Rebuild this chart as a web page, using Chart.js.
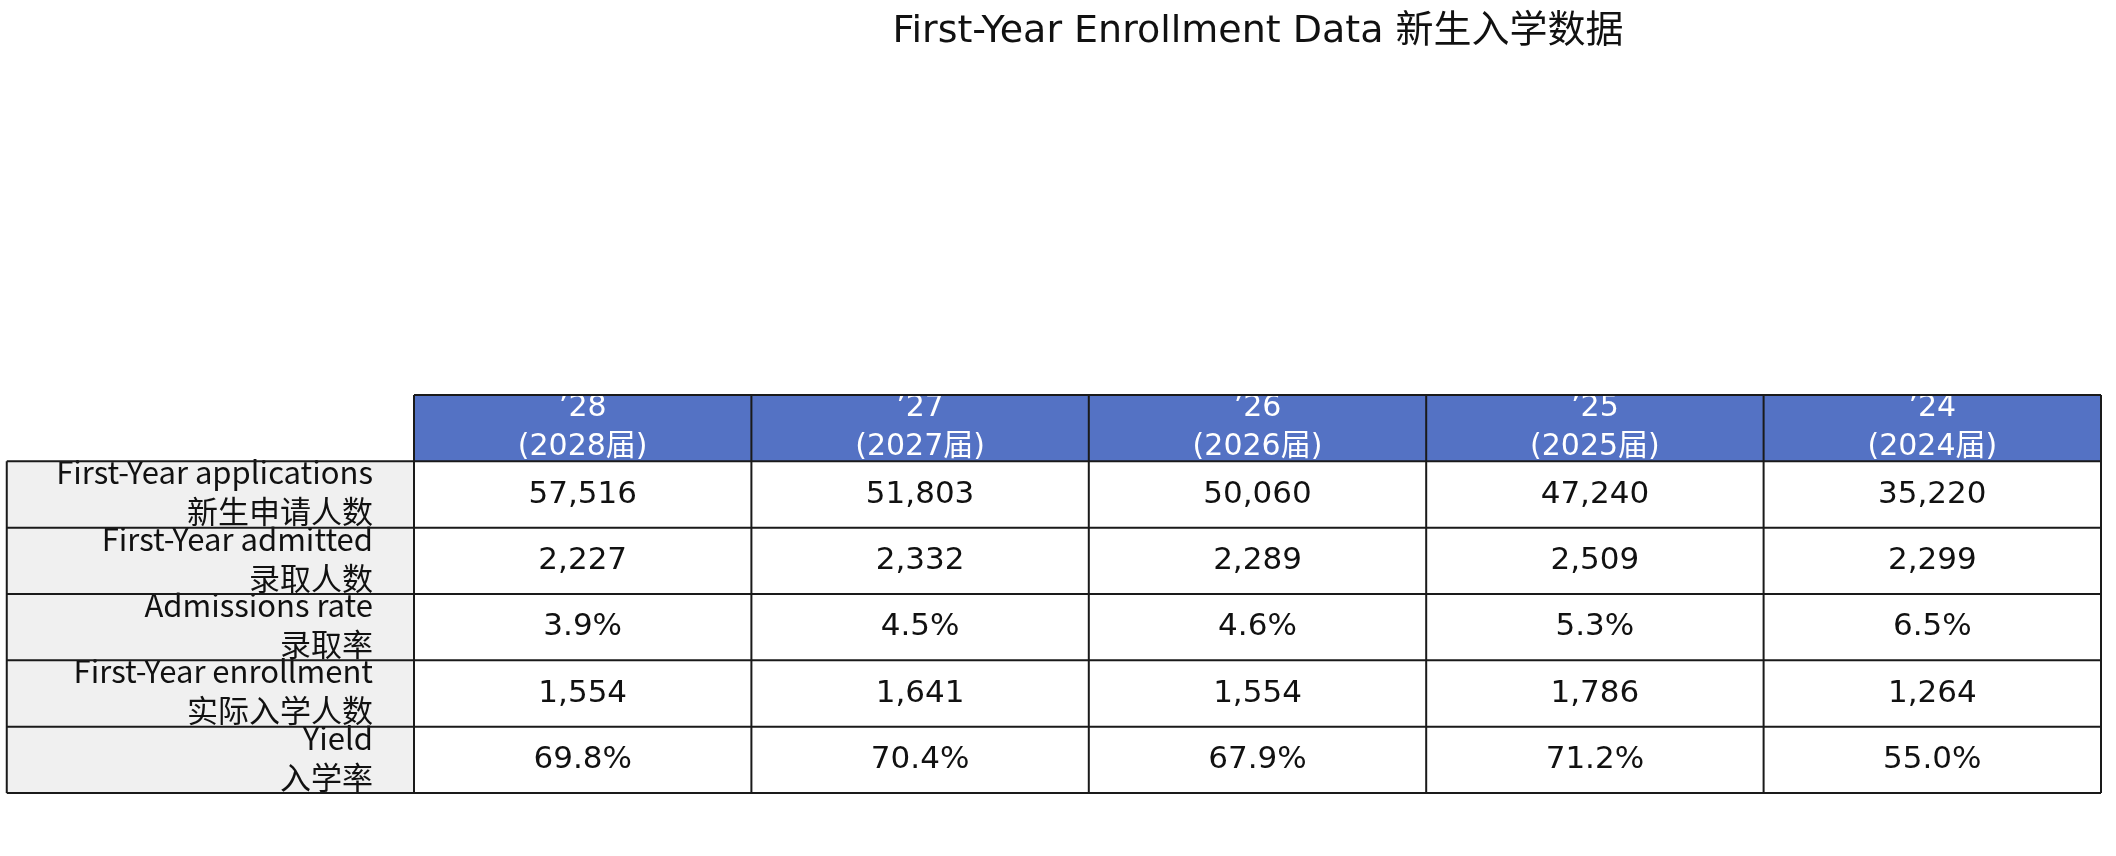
<!DOCTYPE html>
<html>
<head>
<meta charset="utf-8">
<script src="https://cdn.jsdelivr.net/npm/chart.js@4/dist/chart.umd.min.js"></script>
<style>
    html, body { margin: 0; padding: 0; background: #ffffff; }
    #wrap { width: 2116px; height: 856px; }
</style>
</head>
<body>
<div id="wrap"><canvas id="c" width="2116" height="856"></canvas></div>
<script>
    'use strict';

    var titleText = 'First-Year Enrollment Data 新生入学数据';
    var columnYears = ['\u201928', '\u201927', '\u201926', '\u201925', '\u201924'];
    var columnClasses = ['(2028届)', '(2027届)', '(2026届)', '(2025届)', '(2024届)'];
    var rowLabelsEn = ['First-Year applications', 'First-Year admitted', 'Admissions rate', 'First-Year enrollment', 'Yield'];
    var rowLabelsZh = ['新生申请人数', '录取人数', '录取率', '实际入学人数', '入学率'];
    var applications = ['57,516', '51,803', '50,060', '47,240', '35,220'];
    var admitted = ['2,227', '2,332', '2,289', '2,509', '2,299'];
    var admissionsRate = ['3.9%', '4.5%', '4.6%', '5.3%', '6.5%'];
    var enrollment = ['1,554', '1,641', '1,554', '1,786', '1,264'];
    var yieldRate = ['69.8%', '70.4%', '67.9%', '71.2%', '55.0%'];

    var rows = [applications, admitted, admissionsRate, enrollment, yieldRate];
    var labelColUnits = 1.207;

    var wideFont = "'DejaVu Sans', Verdana, sans-serif";
    var cjk = "'Noto Sans CJK SC'";
    var narrowFont = "'Liberation Sans Narrow', 'Arial Narrow', " + cjk + ", sans-serif";

    var tablePlugin = {
        id: 'enrollmentTable',
        afterDraw: function (chart) {
            var ctx = chart.ctx;
            var xs = chart.scales.x;
            var ys = chart.scales.y;
            var nCols = columnYears.length;
            var nRows = rows.length;

            function px(v) { return xs.getPixelForValue(v); }
            function py(v) { return ys.getPixelForValue(v); }

            ctx.save();

            // title
            ctx.fillStyle = '#111111';
            ctx.font = '38px ' + wideFont + ', ' + cjk;
            ctx.textAlign = 'center';
            ctx.textBaseline = 'middle';
            ctx.fillText(titleText, 1258, 32);

            // header band
            ctx.fillStyle = '#5472c4';
            ctx.fillRect(px(0), py(0), px(nCols) - px(0), py(1) - py(0));

            // label column
            ctx.fillStyle = '#f0f0f0';
            ctx.fillRect(px(-labelColUnits), py(1), px(0) - px(-labelColUnits), py(nRows + 1) - py(1));

            // header text
            ctx.fillStyle = '#ffffff';
            ctx.font = '30px ' + wideFont + ', ' + cjk;
            for (var c = 0; c < nCols; c++) {
                var cx = (px(c) + px(c + 1)) / 2;
                ctx.fillText(columnYears[c], cx, py(0) + 13);
                ctx.fillText(columnClasses[c], cx, py(0) + 52);
            }

            // values
            ctx.fillStyle = '#111111';
            ctx.font = '31px ' + wideFont;
            for (var r = 0; r < nRows; r++) {
                var cy = (py(r + 1) + py(r + 2)) / 2;
                for (c = 0; c < nCols; c++) {
                    ctx.fillText(rows[r][c], (px(c) + px(c + 1)) / 2, cy);
                }
            }

            // row labels
            ctx.textAlign = 'right';
            ctx.font = '31px ' + narrowFont;
            var lx = px(0) - 41;
            for (r = 0; r < nRows; r++) {
                cy = (py(r + 1) + py(r + 2)) / 2;
                ctx.fillText(rowLabelsEn[r], lx, cy - 22);
                ctx.font = '31px ' + cjk + ', sans-serif';
                ctx.fillText(rowLabelsZh[r], lx, cy + 17);
                ctx.font = '31px ' + narrowFont;
            }

            // grid lines
            ctx.strokeStyle = '#1a1a1a';
            ctx.lineWidth = 2;
            ctx.beginPath();
            for (r = 0; r <= nRows + 1; r++) {
                var left = r === 0 ? px(0) : px(-labelColUnits);
                ctx.moveTo(left, py(r));
                ctx.lineTo(px(nCols), py(r));
            }
            ctx.moveTo(px(-labelColUnits), py(1));
            ctx.lineTo(px(-labelColUnits), py(nRows + 1));
            for (c = 0; c <= nCols; c++) {
                ctx.moveTo(px(c), py(0));
                ctx.lineTo(px(c), py(nRows + 1));
            }
            ctx.stroke();

            ctx.restore();
        }
    };

    new Chart(document.getElementById('c'), {
        type: 'scatter',
        data: { datasets: [{ data: [], pointRadius: 0 }] },
        options: {
            responsive: false,
            animation: false,
            events: [],
            layout: { padding: { left: 414, right: 15, top: 395, bottom: 63 } },
            plugins: { legend: { display: false }, tooltip: { enabled: false } },
            scales: {
                x: { type: 'linear', min: 0, max: columnYears.length, display: false },
                y: { type: 'linear', min: 0, max: rows.length + 1, reverse: true, display: false }
            }
        },
        plugins: [tablePlugin]
    });
</script>
</body>
</html>
